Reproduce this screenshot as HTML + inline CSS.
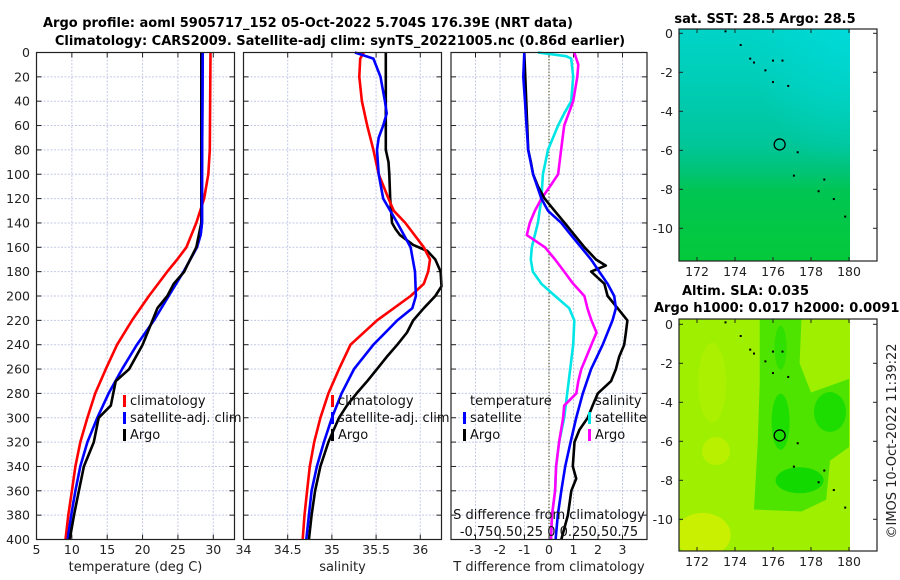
<!DOCTYPE html>
<html><head><meta charset="utf-8"><style>
body{margin:0;background:#fff;}
svg{display:block;font-family:"DejaVu Sans","Liberation Sans",sans-serif;}
</style></head><body>
<svg id="fig" width="900" height="580" viewBox="0 0 900 580" xmlns="http://www.w3.org/2000/svg">
<defs>
<linearGradient id="sstg" x1="0" y1="0" x2="0" y2="1">
<stop offset="0" stop-color="#00d4c8"/><stop offset="0.3" stop-color="#00cbb0"/><stop offset="0.5" stop-color="#00c699"/><stop offset="0.6" stop-color="#00c47a"/><stop offset="0.7" stop-color="#00c552"/><stop offset="1" stop-color="#04c93a"/>
</linearGradient>
<radialGradient id="sstg2" cx="1" cy="0" r="0.6">
<stop offset="0" stop-color="#00dce0" stop-opacity="0.7"/><stop offset="1" stop-color="#00dce0" stop-opacity="0"/>
</radialGradient>
<clipPath id="mapclip2"><rect x="679" y="319" width="171" height="232"/></clipPath>
</defs>
<g font-weight="bold" font-size="13" text-anchor="middle" fill="#000">
<text x="308" y="27">Argo profile: aoml 5905717_152 05-Oct-2022 5.704S 176.39E (NRT data)</text>
<text x="340" y="45">Climatology: CARS2009. Satellite-adj clim: synTS_20221005.nc (0.86d earlier)</text>
</g>
<g id="plots"></g>
</svg>
<script>
const depths=[0,20,40,60,80,100,120,140,150,160,170,180,190,200,210,220,230,240,250,260,270,280,290,300,310,320,340,360,380,400];
// Temperature panel
const tClimD=[0,80,100,120,140,160,170,180,200,220,240,260,280,300,320,340,360,380,400];
const tClim=[29.6,29.5,29.3,28.7,27.6,26.2,24.9,23.5,20.9,18.5,16.4,14.8,13.3,12.2,11.2,10.5,10.0,9.5,9.1];
const tSatD=[0,100,140,150,160,180,200,220,240,260,280,300,320,340,360,380,400];
const tSat=[28.5,28.4,28.4,28.2,27.7,25.8,23.7,21.6,19.2,17.1,15.2,13.6,12.2,11.2,10.5,9.9,9.4];
const tArgoD=[0,140,160,175,180,190,200,210,220,240,260,270,290,300,320,340,360,380,400];
const tArgo=[28.3,28.3,27.6,26.3,25.9,24.4,23.5,22.1,21.4,20.0,18.1,16.2,15.5,13.8,13.1,11.7,11.0,10.3,9.7];
// Salinity panel
const sClimD=[0,5,20,40,60,80,100,120,130,140,160,170,180,190,200,220,240,260,280,300,320,340,360,380,400];
const sClim=[35.36,35.32,35.31,35.34,35.40,35.47,35.53,35.64,35.70,35.83,36.04,36.11,36.09,36.04,35.89,35.51,35.21,35.08,34.96,34.87,34.80,34.75,34.72,34.69,34.67];
const sSatD=[0,5,20,40,50,60,70,80,100,120,140,160,180,200,210,220,240,260,280,300,320,340,360,380,400];
const sSat=[35.26,35.47,35.55,35.60,35.62,35.58,35.53,35.51,35.53,35.58,35.74,35.89,35.94,35.95,35.91,35.74,35.47,35.25,35.11,35.0,34.91,34.83,34.77,34.74,34.71];
const sArgoD=[0,80,90,100,120,140,145,150,158,163,170,180,192,200,210,220,230,240,250,260,270,280,290,300,310,320,340,360,380,400];
const sArgo=[35.61,35.61,35.64,35.65,35.66,35.68,35.72,35.77,35.92,36.08,36.17,36.23,36.24,36.17,36.04,35.92,35.85,35.74,35.62,35.51,35.40,35.28,35.17,35.08,35.02,34.96,34.87,34.81,34.77,34.74];
// Difference panel
const dTSatD=[0,20,40,60,80,100,120,130,140,150,160,170,180,190,200,210,220,240,260,280,300,320,340,360,380,400];
const dTSat=[-1.01,-1.05,-0.98,-0.92,-0.85,-0.65,-0.31,-0.04,0.5,0.9,1.31,1.72,2.05,2.39,2.66,2.73,2.59,2.19,1.72,1.38,1.11,0.88,0.66,0.5,0.36,0.27];
const dTArgoD=[0,80,90,100,110,120,130,140,150,160,170,175,180,190,200,210,220,230,240,250,260,270,280,290,300,310,320,340,350,360,380,400];
const dTArgo=[-1.01,-0.85,-0.74,-0.65,-0.45,-0.18,0.23,0.64,1.04,1.45,1.92,2.32,1.72,2.26,2.39,2.8,3.2,3.14,3.07,2.86,2.73,2.53,1.99,1.78,1.58,1.24,1.04,0.97,1.11,0.91,0.77,0.5];
const dSSatD=[0,3,5,20,40,50,60,70,80,100,120,140,160,170,180,190,200,210,220,240,260,280,300,320,340,360,380,400];
const dSSat=[-0.11,0.17,0.22,0.24,0.22,0.15,0.09,0.04,-0.01,-0.06,-0.075,-0.11,-0.17,-0.18,-0.16,-0.075,0.06,0.2,0.25,0.24,0.21,0.18,0.15,0.1,0.07,0.06,0.03,0.02];
const dSArgoD=[0,10,20,40,60,80,100,110,120,130,140,150,160,170,180,190,200,210,220,230,240,250,260,270,280,290,300,320,340,360,380,400];
const dSArgo=[0.25,0.29,0.28,0.24,0.15,0.12,0.09,0.01,-0.075,-0.14,-0.19,-0.22,-0.04,0.06,0.15,0.24,0.35,0.38,0.42,0.47,0.42,0.37,0.32,0.29,0.27,0.15,0.14,0.1,0.07,0.06,0.03,0.02];
// ticks
const depthTicks=[0,20,40,60,80,100,120,140,160,180,200,220,240,260,280,300,320,340,360,380,400];
const tTicks=[5,10,15,20,25,30];
const sTicks=[34,34.5,35,35.5,36];
const dTicks=[-3,-2,-1,0,1,2,3];
const latTicks=[0,-2,-4,-6,-8,-10];
const lonTicks=[172,174,176,178,180];
const argoLon=176.35, argoLat=-5.7;

const NS='http://www.w3.org/2000/svg';
const root=document.getElementById('plots');
function mk(tag,attrs,parent,text){const e=document.createElementNS(NS,tag);for(const k in attrs)e.setAttribute(k,attrs[k]);if(text!==undefined)e.textContent=text;(parent||root).appendChild(e);return e;}
const Y0=52.5,Y1=539.5;
const yD=d=>Y0+(d/400)*(Y1-Y0);
function lin(d0,d1,r0,r1){return v=>r0+(v-d0)/(d1-d0)*(r1-r0);}

function panel(name,x0,x1,xs,xticks,xtitle,leftLabels){
  const g=mk('g',{});
  
  
  const grid=mk('g',{stroke:'#c4c9e6','stroke-width':1,'stroke-dasharray':'2,1.5'},g);
  
  
  depthTicks.forEach(d=>{if(d>0&&d<400)mk('line',{x1:x0,x2:x1,y1:yD(d),y2:yD(d)},grid);});
  xticks.forEach(v=>{const x=xs(v);if(x>x0+1&&x<x1-1)mk('line',{x1:x,x2:x,y1:Y0,y2:Y1},grid);});
  const tk=mk('g',{stroke:'#222','stroke-width':1},g);
  depthTicks.forEach(d=>{mk('line',{x1:x0,x2:x0+5,y1:yD(d),y2:yD(d)},tk);mk('line',{x1:x1-5,x2:x1,y1:yD(d),y2:yD(d)},tk);});
  xticks.forEach(v=>{const x=xs(v);mk('line',{x1:x,x2:x,y1:Y1,y2:Y1-5},tk);mk('line',{x1:x,x2:x,y1:Y0,y2:Y0+5},tk);});
  const lab=mk('g',{'font-size':12.5,fill:'#222','text-anchor':'middle'},g);
  
  
  xticks.forEach(v=>mk('text',{x:xs(v),y:554},lab,String(v)));
  const tt=mk('text',{x:(x0+x1)/2,y:571,'font-size':13,fill:'#222','text-anchor':'middle'},g,xtitle);
  
  
  if(leftLabels){
    const yl=mk('g',{'font-size':12.5,fill:'#222','text-anchor':'end'},g);
    
    
    depthTicks.forEach(d=>mk('text',{x:30,y:yD(d)+4.5},yl,String(d)));
  }
  return g;
}
function frame(g,x0,x1,y0,y1){mk('rect',{x:x0,y:y0,width:x1-x0,height:y1-y0,fill:'none',stroke:'#222','stroke-width':1.2},g);}
function series(g,name,ds,vs,xs,color,w){
  const p=ds.map((d,i)=>(i?'L':'M')+xs(vs[i]).toFixed(1)+','+yD(d).toFixed(1)).join('');
  const e=mk('path',{d:p,fill:'none',stroke:color,'stroke-width':w||2.6,'stroke-linejoin':'round'},g);
  
  
}
function legend(g,name,x,y,items){
  const lg=mk('g',{'font-size':13,fill:'#111'},g);
  
  
  items.forEach((it,i)=>{
    if(it[1])mk('rect',{x:x-7,y:y+i*17-10,width:3,height:12,fill:it[1]},lg);
    mk('text',{x:x,y:y+i*17},lg,it[0]);
  });
}

// Panel 1
const xT=lin(5,33,36.5,234.5);
const g1=panel('temperature-panel',36.5,234.5,xT,tTicks,'temperature (deg C)',true);
series(g1,'temp-climatology-line',tClimD,tClim,xT,'#ff0000');
series(g1,'temp-satellite-line',tSatD,tSat,xT,'#0000ff');
series(g1,'temp-argo-line',tArgoD,tArgo,xT,'#000');
series(g1,'temp-satellite-line-top',tSatD.slice(0,4),tSat.slice(0,4),xT,'#0000ff');
legend(g1,'temperature-legend',130,405,[['climatology','#ff0000'],['satellite-adj. clim','#0000ff'],['Argo','#000']]);
frame(g1,36.5,234.5,Y0,Y1);

// Panel 2
const xS=lin(34,36.24,243.5,441.5);
const g2=panel('salinity-panel',243.5,441.5,xS,sTicks,'salinity',false);
series(g2,'sal-argo-line',sArgoD,sArgo,xS,'#000');
series(g2,'sal-climatology-line',sClimD,sClim,xS,'#ff0000');
series(g2,'sal-satellite-line',sSatD,sSat,xS,'#0000ff');
legend(g2,'salinity-legend',338,405,[['climatology','#ff0000'],['satellite-adj. clim','#0000ff'],['Argo','#000']]);
frame(g2,243.5,441.5,Y0,Y1);

// Panel 3
const xDT=lin(-4,4,451,647);
const xDS=lin(-0.97,0.97,451,647);
const g3=panel('difference-panel',451,647,xDT,dTicks,'T difference from climatology',false);
const zl=mk('line',{x1:xDT(0),x2:xDT(0),y1:Y0,y2:Y1,stroke:'#555522','stroke-width':1.2,'stroke-dasharray':'1.2,2'},g3);


series(g3,'sdiff-satellite-line',dSSatD,dSSat,xDS,'#00e6e6');
series(g3,'sdiff-argo-line',dSArgoD,dSArgo,xDS,'#ff00ff');
series(g3,'tdiff-argo-line',dTArgoD,dTArgo,xDT,'#000');
series(g3,'tdiff-satellite-line',dTSatD,dTSat,xDT,'#0000ff');
legend(g3,'tdiff-legend',470,405,[['temperature',null],['satellite','#0000ff'],['Argo','#000']]);
legend(g3,'sdiff-legend',595,405,[['salinity',null],['satellite','#00e6e6'],['Argo','#ff00ff']]);
const st=mk('g',{'font-size':13,fill:'#111','text-anchor':'middle'},g3);


mk('text',{x:549,y:519},st,'S difference from climatology');
mk('text',{x:549,y:536},st,'-0.750.50.25 0 0.250.50.75');
frame(g3,451,647,Y0,Y1);

// Maps
function map(name,y0,y1,lat0,extra){
  const x0=679,x1=877,imgR=850;
  const xl=lin(172,180,697,849), yl=lin(0,-10,lat0,lat0+195);
  const g=mk('g',{});
  
  
  extra(g,x0,y0,imgR,y1,xl,yl);
  const tk=mk('g',{stroke:'#222','stroke-width':1},g);
  latTicks.forEach(v=>{const y=yl(v);mk('line',{x1:x0,x2:x0+4,y1:y,y2:y},tk);mk('line',{x1:x1-4,x2:x1,y1:y,y2:y},tk);});
  lonTicks.forEach(v=>{const x=xl(v);mk('line',{x1:x,x2:x,y1:y1,y2:y1-4},tk);mk('line',{x1:x,x2:x,y1:y0,y2:y0+4},tk);});
  const lab=mk('g',{'font-size':12.5,fill:'#222'},g);
  latTicks.forEach(v=>mk('text',{x:673,y:yl(v)+4.5,'text-anchor':'end'},lab,String(v)));
  lonTicks.forEach(v=>mk('text',{x:xl(v),y:y1+15,'text-anchor':'middle'},lab,String(v)));
  const isl=mk('g',{fill:'#000'},g);
  [[173.5,0.1],[174.3,-0.6],[174.8,-1.3],[175,-1.5],[175.6,-1.9],[176,-1.4],[176.5,-1.4],[176,-2.5],[176.8,-2.7],[177.3,-6.1],[177.1,-7.3],[178.7,-7.5],[178.4,-8.1],[179.2,-8.5],[179.8,-9.4]].forEach(p=>mk('rect',{x:xl(p[0])-1,y:yl(p[1])-1,width:2,height:2},isl));
  const c=mk('circle',{cx:xl(argoLon),cy:yl(argoLat),r:5.5,fill:'none',stroke:'#000','stroke-width':1.3},g);
  
  
  mk('rect',{x:x0,y:y0,width:x1-x0,height:y1-y0,fill:'none',stroke:'#222','stroke-width':1.2},g);
  return g;
}
map('sst-map',29,261,33.3,(g,x0,y0,r,y1)=>{
  mk('rect',{x:x0,y:y0,width:r-x0,height:y1-y0,fill:'url(#sstg)'},g);
  mk('rect',{x:x0,y:y0,width:r-x0,height:y1-y0,fill:'url(#sstg2)'},g);
});
map('sla-map',319,551,324.3,(g,x0,y0,r,y1,xl,yl)=>{
  const cg=mk('g',{'clip-path':'url(#mapclip2)'},g);
  mk('rect',{x:x0,y:y0,width:r-x0,height:y1-y0,fill:'#9ef000'},cg);
  mk('ellipse',{cx:xl(172.3),cy:yl(-10.8),rx:28,ry:22,fill:'#c8f000'},cg);
  mk('ellipse',{cx:xl(173),cy:yl(-6.5),rx:14,ry:14,fill:'#b8f000'},cg);
  mk('ellipse',{cx:xl(172.8),cy:yl(-3),rx:14,ry:40,fill:'#aaf000'},cg);
  mk('path',{d:`M${xl(175.3)},${yl(0.3)} L${xl(177.5)},${yl(0.3)} L${xl(177.4)},${yl(-2)} L${xl(178)},${yl(-3.5)} L${xl(180)},${yl(-2.8)} L${xl(180)},${yl(-6.3)} L${xl(179)},${yl(-7)} L${xl(178.8)},${yl(-9)} L${xl(177.5)},${yl(-9.6)} L${xl(175)},${yl(-9.5)} L${xl(175.2)},${yl(-6)} L${xl(175.3)},${yl(-3)} Z`,fill:'#4ee400'},cg);
  mk('ellipse',{cx:xl(176.4),cy:yl(-5),rx:9,ry:28,fill:'#1ede00'},cg);
  mk('ellipse',{cx:xl(177.4),cy:yl(-8),rx:24,ry:13,fill:'#12da00'},cg);
  mk('ellipse',{cx:xl(179),cy:yl(-4.5),rx:16,ry:20,fill:'#1cdc00'},cg);
  mk('ellipse',{cx:xl(176.4),cy:yl(-1.2),rx:6,ry:22,fill:'#30e000'},cg);
});
const mt=mk('g',{'font-weight':'bold','font-size':13,fill:'#000'});


mk('text',{x:765,y:23,'text-anchor':'middle'},mt,'sat. SST: 28.5 Argo: 28.5');
mk('text',{x:682,y:295},mt,'Altim. SLA: 0.035');
mk('text',{x:654,y:312},mt,'Argo h1000: 0.017 h2000: 0.0091');
const cr=mk('text',{x:0,y:0,'font-size':13,fill:'#222','text-anchor':'middle',transform:'translate(896,441) rotate(-90)'},root,'©IMOS 10-Oct-2022 11:39:22');


</script>
</body></html>
